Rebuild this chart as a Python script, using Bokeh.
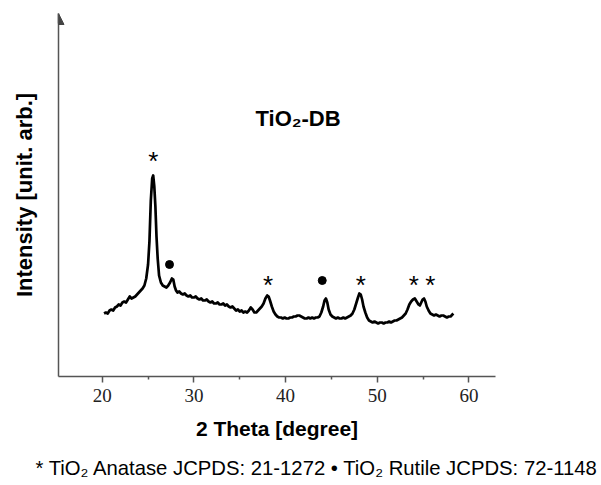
from bokeh.plotting import figure
from bokeh.models import Label, Arrow, NormalHead, FixedTicker, Range1d, Title
from bokeh.core.properties import value
from bokeh.embed import file_html
from bokeh.resources import INLINE

# ---- data ----
two_theta = [20.2, 20.4, 20.6, 20.8, 21.0, 21.2, 21.4, 21.6, 21.8, 22.0, 22.2, 22.4, 22.6, 22.8,
             23.0, 23.2, 23.4, 23.6, 23.8, 24.0, 24.2, 24.4, 24.6, 24.8, 25.0, 25.15, 25.3, 25.45,
             25.56, 25.68, 25.8, 25.92, 26.05, 26.2, 26.4, 26.6, 26.8, 27.0, 27.2, 27.4, 27.6, 27.75,
             27.9, 28.05, 28.2, 28.4, 28.6, 28.8, 29.0, 29.2, 29.4, 29.6, 29.8, 30.0, 30.2, 30.4,
             30.6, 30.8, 31.0, 31.2, 31.4, 31.6, 31.8, 32.0, 32.2, 32.4, 32.6, 32.8, 33.0, 33.2,
             33.4, 33.6, 33.8, 34.0, 34.2, 34.4, 34.6, 34.8, 35.0, 35.2, 35.4, 35.6, 35.8, 36.0,
             36.2, 36.4, 36.6, 36.8, 37.0, 37.2, 37.4, 37.6, 37.8, 38.0, 38.15, 38.3, 38.5, 38.7,
             38.9, 39.1, 39.3, 39.5, 39.7, 39.9, 40.1, 40.3, 40.5, 40.7, 40.9, 41.1, 41.3, 41.5,
             41.7, 41.9, 42.1, 42.3, 42.5, 42.7, 42.9, 43.1, 43.3, 43.5, 43.7, 43.9, 44.1, 44.25,
             44.4, 44.55, 44.7, 44.9, 45.1, 45.3, 45.5, 45.7, 45.9, 46.1, 46.3, 46.5, 46.7, 46.9,
             47.1, 47.3, 47.5, 47.7, 47.9, 48.05, 48.2, 48.35, 48.5, 48.7, 48.9, 49.1, 49.3, 49.5,
             49.7, 49.9, 50.1, 50.3, 50.5, 50.7, 50.9, 51.1, 51.3, 51.5, 51.7, 51.9, 52.1, 52.3,
             52.5, 52.7, 52.9, 53.1, 53.3, 53.5, 53.7, 53.9, 54.1, 54.3, 54.5, 54.65, 54.8, 54.95,
             55.1, 55.25, 55.4, 55.6, 55.8, 56.0, 56.2, 56.4, 56.6, 56.8, 57.0, 57.2, 57.4, 57.6,
             57.8, 58.0, 58.2, 58.3]
intensity = [63, 64, 63, 66, 67, 66, 69, 70, 72, 71, 74, 75, 74, 77,
             80, 78, 79, 80, 82, 84, 86, 88, 91, 98, 112, 135, 176, 198,
             201, 190, 170, 140, 118, 101, 94, 91, 90, 89, 91, 94, 98, 97,
             90, 86, 84, 85, 83, 82, 83, 81, 80, 81, 79, 79, 80, 78,
             77, 78, 76, 76, 77, 75, 74, 75, 73, 73, 74, 72, 72, 73,
             71, 72, 70, 69, 70, 68, 66, 67, 65, 66, 64, 65, 64, 66,
             69, 67, 64, 64, 66, 68, 70, 73, 78, 81, 80, 76, 70, 65,
             62, 60, 59, 59, 58, 59, 58, 58, 59, 59, 60, 60, 61, 61,
             60, 59, 58, 58, 59, 58, 59, 58, 59, 59, 60, 64, 70, 76,
             78, 74, 67, 62, 60, 59, 58, 59, 58, 58, 59, 58, 59, 60,
             61, 63, 67, 73, 79, 83, 82, 77, 70, 64, 59, 56, 55, 54,
             55, 54, 53, 54, 54, 53, 54, 54, 55, 54, 55, 56, 56, 57,
             58, 59, 61, 63, 67, 72, 75, 77, 78, 75, 72, 71, 74, 77,
             78, 75, 70, 66, 63, 62, 61, 62, 61, 60, 61, 61, 60, 59,
             60, 60, 62, 63]

anatase_x = [25.56, 38.1, 48.2, 54.0, 55.8]
anatase_y = [219, 95, 95, 95, 95]
rutile_x = [27.34, 44.0]
rutile_y = [112, 96]

x_ticks = [20, 30, 40, 50, 60]
x_minor = [25, 35, 45, 55]

title_text = "TiO₂-DB"
x_label = "2 Theta [degree]"
y_label = "Intensity [unit. arb.]"
note_text = "* TiO₂ Anatase JCPDS: 21-1272 • TiO₂ Rutile JCPDS: 72-1148"

# ---- layout (page pixels) ----
W, H = 600, 485
BL, BT = 58, 13
FW, FH = 437, 363
BR = W - BL - FW
BB = H - BT - FH
X0, X1 = 15.23, 62.9
Y0, Y1 = 0, 363


def sx(px):
    return X0 + (px - BL) * (X1 - X0) / FW


def sy(py):
    return Y1 - (py - BT) * (Y1 - Y0) / FH


p = figure(width=W, height=H, x_range=Range1d(X0, X1), y_range=Range1d(Y0, Y1),
           output_backend="svg", toolbar_location=None,
           min_border_left=BL, min_border_right=BR, min_border_top=BT, min_border_bottom=BB)
p.grid.visible = False
p.outline_line_color = None
p.background_fill_color = "white"

ax_col = "#555555"
xa = p.xaxis[0]
xa.ticker = FixedTicker(ticks=x_ticks, minor_ticks=x_minor)
xa.axis_line_color = ax_col
xa.axis_line_width = 1.5
xa.major_tick_line_color = ax_col
xa.major_tick_line_width = 1.5
xa.major_tick_out = 6
xa.major_tick_in = 0
xa.minor_tick_line_color = ax_col
xa.minor_tick_line_width = 1.5
xa.minor_tick_out = 3
xa.minor_tick_in = 0
xa.major_label_text_font = "Liberation Serif"
xa.major_label_text_font_size = "19px"
xa.major_label_text_color = "#222222"
xa.major_label_standoff = 6

ya = p.yaxis[0]
ya.ticker = FixedTicker(ticks=[])
ya.axis_line_color = ax_col
ya.axis_line_width = 1.5
ya.major_tick_line_color = None
ya.minor_tick_line_color = None
ya.major_tick_out = 0
ya.major_tick_in = 0
ya.major_label_text_font_size = "0px"
ya.axis_label = y_label
ya.axis_label_text_font = "Liberation Sans"
ya.axis_label_text_font_style = "bold"
ya.axis_label_text_font_size = "22px"
ya.axis_label_text_color = "black"
ya.axis_label_standoff = 22

p.add_layout(Arrow(end=NormalHead(size=11, fill_color="#444444", line_color="#444444"),
                   x_start=X0, y_start=Y1 - 10, x_end=X0, y_end=Y1,
                   line_color=ax_col, line_width=1.5))

p.line(two_theta, intensity, line_color="black", line_width=2.7, line_join="round")

p.text(x=anatase_x, y=anatase_y, text=["*"] * len(anatase_x),
       text_font=value("Liberation Sans"), text_font_size="26px",
       text_align="center", text_baseline="alphabetic", y_offset=3, text_color="black")
p.scatter(x=rutile_x, y=rutile_y, marker="circle", size=8, fill_color="black", line_color="black")

p.add_layout(Label(x=sx(255), y=sy(118), text=title_text, text_font="Liberation Sans",
                   text_font_style="bold", text_font_size="22px", text_align="left",
                   text_baseline="alphabetic", text_color="black"))

p.add_layout(Title(text=x_label, align="center", offset=44, standoff=20,
                   text_font="Liberation Sans", text_font_style="bold",
                   text_font_size="21px", text_color="black"), "below")
p.add_layout(Title(text=note_text, align="left", offset=-23, standoff=11,
                   text_font="Liberation Sans", text_font_style="normal",
                   text_font_size="20.3px", text_color="black"), "below")

open("out.html", "w").write(file_html(p, INLINE))
